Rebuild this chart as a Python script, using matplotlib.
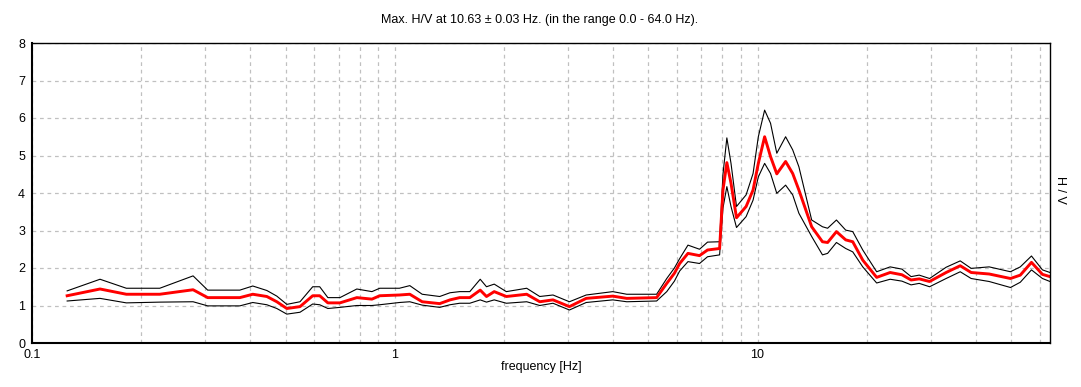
"""
H/V spectral ratio curve (mean and +/- std) on a log frequency axis.
"""

import matplotlib
matplotlib.use('Agg')
import matplotlib.pyplot as plt
from matplotlib.ticker import LogLocator, FixedLocator, FixedFormatter, NullFormatter

plt.rcParams['font.family'] = ['Liberation Sans', 'DejaVu Sans']

# ─────────────────────────────────────────────
# Data
# ─────────────────────────────────────────────
freq = [0.125, 0.154, 0.182, 0.225, 0.278, 0.305, 0.374, 0.406, 0.444, 0.473,
        0.504, 0.548, 0.594, 0.621, 0.654, 0.706, 0.786, 0.865, 0.909, 1.03,
        1.10, 1.19, 1.33, 1.42, 1.51, 1.61, 1.72, 1.79, 1.88, 2.03,
        2.31, 2.51, 2.73, 3.03, 3.37, 3.99, 4.36, 5.27, 5.62, 5.90,
        6.10, 6.43, 6.92, 7.28, 7.86, 8.03, 8.23, 8.45, 8.75, 9.30,
        9.72, 10.05, 10.46, 10.86, 11.30, 11.95, 12.50, 13.00, 14.10, 15.10,
        15.60, 16.50, 17.50, 18.30, 19.50, 21.30, 23.20, 25.00, 26.50, 27.90,
        29.80, 33.10, 36.20, 38.80, 43.50, 49.80, 53.00, 56.90, 61.00, 64.00]

hv_mean = [1.26, 1.44, 1.30, 1.30, 1.42, 1.21, 1.21, 1.30, 1.24, 1.10,
           0.92, 0.97, 1.26, 1.26, 1.07, 1.07, 1.21, 1.17, 1.26, 1.28,
           1.30, 1.10, 1.05, 1.15, 1.21, 1.21, 1.41, 1.24, 1.37, 1.24,
           1.30, 1.10, 1.15, 0.97, 1.19, 1.25, 1.19, 1.21, 1.59, 1.86,
           2.12, 2.39, 2.33, 2.48, 2.52, 4.08, 4.81, 4.26, 3.34, 3.64,
           4.08, 4.79, 5.50, 4.97, 4.51, 4.84, 4.52, 4.08, 3.10, 2.70,
           2.68, 2.97, 2.75, 2.70, 2.21, 1.75, 1.88, 1.82, 1.68, 1.71,
           1.64, 1.88, 2.06, 1.88, 1.84, 1.72, 1.81, 2.15, 1.83, 1.77]

hv_upper = [1.39, 1.70, 1.46, 1.46, 1.79, 1.41, 1.41, 1.52, 1.40, 1.25,
            1.03, 1.10, 1.50, 1.50, 1.21, 1.21, 1.44, 1.37, 1.46, 1.46,
            1.53, 1.30, 1.24, 1.34, 1.37, 1.37, 1.70, 1.50, 1.57, 1.37,
            1.46, 1.24, 1.28, 1.10, 1.28, 1.37, 1.30, 1.30, 1.72, 2.00,
            2.25, 2.61, 2.50, 2.69, 2.70, 4.50, 5.47, 4.79, 3.64, 3.95,
            4.52, 5.50, 6.21, 5.86, 5.06, 5.50, 5.15, 4.70, 3.28, 3.10,
            3.06, 3.28, 3.01, 2.97, 2.48, 1.90, 2.03, 1.97, 1.77, 1.81,
            1.72, 2.02, 2.19, 1.99, 2.03, 1.90, 2.03, 2.32, 1.95, 1.88]

hv_lower = [1.12, 1.19, 1.07, 1.09, 1.10, 0.99, 0.99, 1.08, 1.02, 0.92,
            0.77, 0.82, 1.04, 1.02, 0.92, 0.95, 1.00, 1.00, 1.02, 1.08,
            1.10, 1.01, 0.95, 1.02, 1.06, 1.06, 1.15, 1.09, 1.15, 1.06,
            1.10, 1.00, 1.06, 0.88, 1.08, 1.15, 1.10, 1.12, 1.37, 1.65,
            1.92, 2.17, 2.12, 2.30, 2.35, 3.60, 4.17, 3.64, 3.08, 3.37,
            3.81, 4.43, 4.79, 4.52, 3.99, 4.21, 3.95, 3.46, 2.84, 2.35,
            2.39, 2.68, 2.52, 2.43, 2.03, 1.60, 1.70, 1.65, 1.55, 1.59,
            1.50, 1.72, 1.90, 1.72, 1.64, 1.48, 1.62, 1.95, 1.72, 1.64]

x_ticks = [0.1, 1, 10]
x_tick_labels = ['0.1', '1', '10']
y_ticks = [0, 1, 2, 3, 4, 5, 6, 7, 8]

title = 'Max. H/V at 10.63 \u00b1 0.03 Hz. (in the range 0.0 - 64.0 Hz).'

# ─────────────────────────────────────────────
# Figure
# ─────────────────────────────────────────────
W, H = 1081, 387
fig = plt.figure(figsize=(W / 100, H / 100), dpi=100)
ax = fig.add_axes([32 / W, 1 - 343 / H, (1050 - 32) / W, 300 / H])

ax.plot(freq, hv_upper, color='black', linewidth=0.8)
ax.plot(freq, hv_lower, color='black', linewidth=0.8)
ax.plot(freq, hv_mean, color='#ff0000', linewidth=2.1)

ax.set_xscale('log')
ax.set_xlim(0.1, 64)
ax.set_ylim(0, 8)

ax.xaxis.set_major_locator(FixedLocator(x_ticks))
ax.xaxis.set_major_formatter(FixedFormatter(x_tick_labels))
ax.xaxis.set_minor_locator(LogLocator(base=10, subs=range(2, 10)))
ax.xaxis.set_minor_formatter(NullFormatter())
ax.set_yticks(y_ticks)

ax.grid(True, which='both', axis='x', color='#c0c0c0', linestyle=(0, (3, 3)), linewidth=0.9)
ax.grid(True, which='major', axis='y', color='#c0c0c0', linestyle=(0, (3, 3)), linewidth=0.9)
ax.set_axisbelow(True)

ax.tick_params(which='both', length=0, labelsize=9, colors='black')
ax.tick_params(axis='y', pad=5)
ax.tick_params(axis='x', pad=4)

for side in ['left', 'bottom', 'top', 'right']:
    ax.spines[side].set_color('black')
ax.spines['left'].set_linewidth(1.5)
ax.spines['bottom'].set_linewidth(1.5)
ax.spines['top'].set_linewidth(1.0)
ax.spines['right'].set_linewidth(1.0)

fig.text(540 / W, 1 - 20 / H, title, ha='center', va='center', fontsize=9)
ax.set_xlabel('frequency [Hz]', fontsize=9, labelpad=0)
fig.text(1060 / W, 1 - 190 / H, 'H / V', ha='center', va='center',
         rotation=-90, fontsize=9)

fig.savefig('out.png', dpi=100)
